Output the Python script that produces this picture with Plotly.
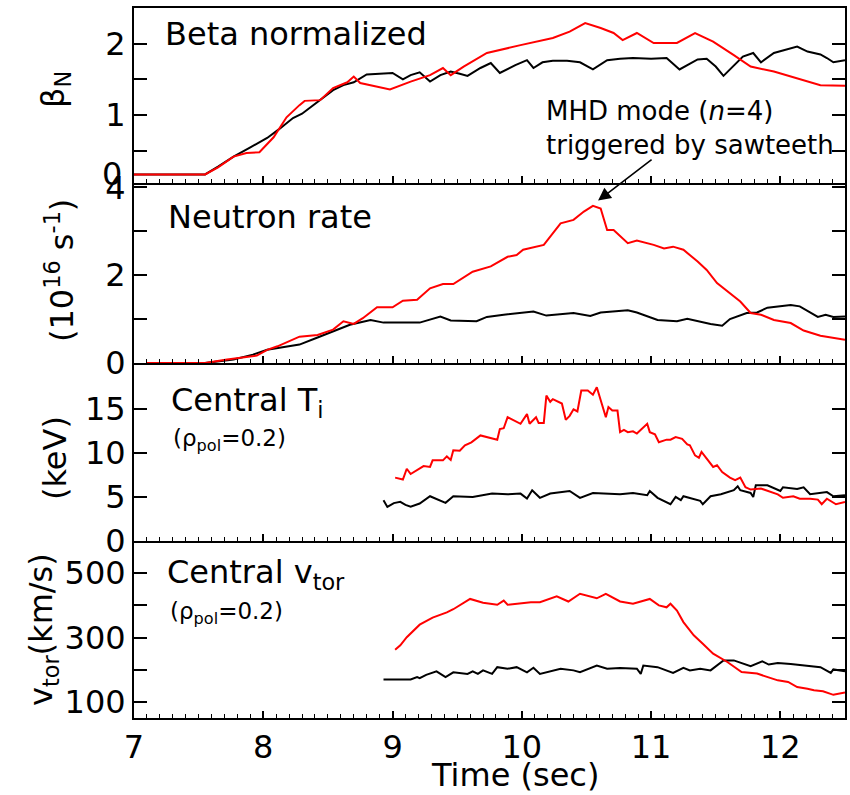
import plotly.graph_objects as go

# ---------------- data ----------------
t_beta_black = [7.0, 7.55, 7.65, 7.77, 7.9, 8.03, 8.12, 8.23, 8.30, 8.36, 8.45, 8.54, 8.62, 8.70, 8.80, 8.9, 9.0, 9.08, 9.14, 9.21, 9.29, 9.37, 9.45, 9.52, 9.58, 9.68, 9.76, 9.83, 9.95, 10.04, 10.09, 10.16, 10.24, 10.35, 10.45, 10.55, 10.66, 10.76, 10.86, 11.0, 11.12, 11.22, 11.30, 11.36, 11.43, 11.50, 11.56, 11.64, 11.71, 11.79, 11.85, 11.95, 12.05, 12.13, 12.21, 12.31, 12.36, 12.41, 12.5]
beta_black = [0.17, 0.17, 0.28, 0.42, 0.55, 0.68, 0.80, 0.96, 1.02, 1.10, 1.22, 1.35, 1.42, 1.46, 1.57, 1.58, 1.59, 1.50, 1.56, 1.60, 1.47, 1.56, 1.61, 1.58, 1.55, 1.66, 1.73, 1.59, 1.70, 1.77, 1.66, 1.74, 1.76, 1.76, 1.74, 1.64, 1.77, 1.79, 1.80, 1.79, 1.80, 1.64, 1.72, 1.78, 1.79, 1.68, 1.55, 1.70, 1.82, 1.87, 1.74, 1.87, 1.92, 1.96, 1.89, 1.85, 1.80, 1.74, 1.77]

t_beta_red = [7.0, 7.55, 7.65, 7.77, 7.87, 7.97, 8.08, 8.18, 8.28, 8.32, 8.44, 8.54, 8.65, 8.70, 8.75, 8.85, 8.98, 9.14, 9.29, 9.39, 9.45, 9.55, 9.73, 9.99, 10.24, 10.37, 10.49, 10.61, 10.71, 10.78, 10.89, 11.02, 11.20, 11.34, 11.48, 11.64, 11.77, 11.95, 12.18, 12.31, 12.5]
beta_red = [0.17, 0.17, 0.27, 0.42, 0.47, 0.48, 0.69, 0.97, 1.14, 1.20, 1.21, 1.38, 1.46, 1.54, 1.45, 1.41, 1.36, 1.47, 1.56, 1.66, 1.56, 1.68, 1.87, 1.98, 2.08, 2.17, 2.29, 2.22, 2.15, 2.05, 2.15, 2.01, 2.01, 2.15, 2.03, 1.84, 1.68, 1.61, 1.49, 1.42, 1.41]

t_neut_black = [7.1, 7.55, 7.77, 7.92, 8.03, 8.15, 8.28, 8.42, 8.54, 8.67, 8.83, 8.93, 9.21, 9.37, 9.45, 9.65, 9.73, 9.86, 10.09, 10.19, 10.40, 10.53, 10.61, 10.82, 10.89, 11.05, 11.20, 11.28, 11.46, 11.55, 11.61, 11.74, 11.82, 11.90, 12.08, 12.15, 12.29, 12.35, 12.41, 12.5]
neut_black = [0.0, 0.0, 0.08, 0.19, 0.30, 0.35, 0.42, 0.58, 0.72, 0.87, 0.98, 0.92, 0.92, 1.06, 0.97, 0.95, 1.05, 1.10, 1.17, 1.08, 1.14, 1.07, 1.15, 1.20, 1.15, 0.98, 0.95, 1.01, 0.89, 0.85, 1.00, 1.14, 1.15, 1.26, 1.32, 1.29, 1.05, 1.10, 1.05, 1.06]

t_neut_red = [7.1, 7.55, 7.72, 7.90, 7.95, 8.03, 8.11, 8.28, 8.42, 8.54, 8.62, 8.70, 8.77, 8.88, 9.0, 9.08, 9.19, 9.29, 9.39, 9.47, 9.62, 9.76, 9.89, 9.96, 10.01, 10.17, 10.30, 10.40, 10.48, 10.55, 10.61, 10.66, 10.71, 10.82, 10.89, 11.02, 11.10, 11.17, 11.25, 11.36, 11.43, 11.51, 11.61, 11.69, 11.77, 11.85, 11.95, 12.08, 12.18, 12.31, 12.5]
neut_red = [0.0, 0.0, 0.08, 0.15, 0.17, 0.30, 0.38, 0.60, 0.64, 0.76, 0.95, 0.89, 1.02, 1.27, 1.27, 1.42, 1.44, 1.70, 1.80, 1.80, 2.08, 2.20, 2.42, 2.46, 2.58, 2.69, 3.18, 3.26, 3.45, 3.58, 3.52, 3.03, 3.03, 2.73, 2.79, 2.69, 2.61, 2.65, 2.58, 2.31, 2.12, 1.82, 1.59, 1.40, 1.14, 1.10, 0.98, 0.91, 0.74, 0.62, 0.53]

t_ti_black = [8.93, 8.96, 9.01, 9.06, 9.10, 9.14, 9.21, 9.29, 9.41, 9.47, 9.62, 9.77, 9.89, 9.99, 10.04, 10.08, 10.14, 10.22, 10.37, 10.45, 10.55, 10.76, 10.86, 10.97, 10.99, 11.05, 11.15, 11.19, 11.23, 11.25, 11.38, 11.40, 11.46, 11.54, 11.64, 11.67, 11.69, 11.77, 11.79, 11.81, 11.90, 12.0, 12.02, 12.13, 12.18, 12.23, 12.36, 12.41, 12.5]
ti_black = [4.63, 3.87, 4.3, 4.44, 4.1, 3.9, 4.25, 5.08, 4.33, 5.08, 5.0, 5.38, 5.3, 5.38, 4.82, 5.76, 4.9, 5.38, 5.68, 4.9, 5.45, 5.3, 5.45, 5.2, 5.68, 4.9, 4.17, 5.0, 4.63, 5.08, 4.55, 4.17, 5.08, 5.3, 5.76, 6.21, 5.76, 5.45, 5.0, 6.32, 6.32, 5.68, 6.1, 5.9, 6.1, 5.3, 5.55, 5.08, 5.2]

t_ti_red = [9.02, 9.08, 9.11, 9.14, 9.24, 9.29, 9.31, 9.39, 9.42, 9.45, 9.47, 9.52, 9.56, 9.61, 9.68, 9.81, 9.83, 9.86, 9.89, 9.99, 10.04, 10.06, 10.11, 10.13, 10.17, 10.19, 10.22, 10.24, 10.31, 10.34, 10.37, 10.40, 10.43, 10.46, 10.51, 10.55, 10.58, 10.61, 10.65, 10.67, 10.70, 10.74, 10.76, 10.79, 10.82, 10.86, 10.89, 10.97, 10.99, 11.03, 11.06, 11.12, 11.15, 11.19, 11.24, 11.28, 11.30, 11.34, 11.37, 11.39, 11.44, 11.48, 11.51, 11.55, 11.61, 11.65, 11.69, 11.73, 11.77, 11.85, 11.98, 12.02, 12.10, 12.15, 12.23, 12.29, 12.32, 12.36, 12.43, 12.5]
ti_red = [7.19, 6.97, 8.2, 7.6, 8.5, 8.4, 9.15, 9.15, 9.6, 9.2, 10.3, 10.25, 10.85, 11.2, 11.98, 11.5, 12.7, 12.8, 14.05, 13.3, 14.4, 13.3, 14.05, 13.4, 13.4, 16.5, 15.8, 16.1, 15.6, 13.75, 14.2, 14.95, 14.7, 17.07, 17.07, 16.6, 17.45, 16.1, 14.05, 15.2, 14.8, 14.8, 12.35, 12.6, 12.35, 12.45, 12.2, 13.3, 12.35, 12.1, 11.2, 11.5, 11.5, 11.8, 11.6, 10.96, 10.85, 9.72, 9.45, 10.1, 9.15, 8.4, 8.6, 7.83, 7.2, 6.9, 7.2, 6.1, 5.84, 5.95, 5.3, 4.9, 5.08, 4.8, 4.8, 4.7, 4.17, 4.8, 4.17, 4.44]

t_vt_black = [8.93, 9.14, 9.19, 9.21, 9.26, 9.34, 9.41, 9.47, 9.58, 9.62, 9.66, 9.70, 9.77, 9.81, 9.89, 9.96, 10.04, 10.09, 10.14, 10.24, 10.30, 10.40, 10.45, 10.58, 10.66, 10.76, 10.89, 10.92, 10.94, 11.05, 11.17, 11.25, 11.30, 11.38, 11.46, 11.56, 11.64, 11.77, 11.86, 11.91, 11.98, 12.08, 12.18, 12.31, 12.39, 12.41, 12.5]
vt_black = [170, 170, 177, 174, 184, 195, 177, 192, 187, 195, 187, 198, 187, 208, 203, 208, 192, 206, 187, 198, 203, 198, 192, 213, 203, 205, 203, 187, 213, 208, 190, 206, 198, 203, 198, 229, 229, 211, 226, 216, 221, 218, 213, 208, 190, 201, 195]

t_vt_red = [9.02, 9.06, 9.11, 9.21, 9.31, 9.42, 9.47, 9.60, 9.70, 9.81, 9.86, 9.89, 10.07, 10.14, 10.27, 10.36, 10.45, 10.58, 10.65, 10.76, 10.86, 10.99, 11.06, 11.12, 11.15, 11.20, 11.25, 11.33, 11.40, 11.48, 11.59, 11.70, 11.82, 11.98, 12.06, 12.13, 12.21, 12.26, 12.33, 12.41, 12.5]
vt_red = [262, 276, 301, 340, 362, 378, 388, 420, 408, 402, 415, 402, 410, 410, 428, 412, 436, 422, 436, 412, 405, 420, 400, 394, 405, 384, 348, 307, 281, 250, 224, 193, 188, 167, 162, 146, 141, 136, 133, 122, 129]

x_ticks = [7, 8, 9, 10, 11, 12]
beta_ticks = [0.5, 1, 1.5, 2]
beta_ticktext = ["", "1", "", "2"]
neut_ticks = [0, 1, 2, 3, 4]
neut_ticktext = ["0", "", "2", "", "4"]
ti_ticks = [0, 5, 10, 15]
ti_ticktext = ["0", "5", "10", "15"]
vt_ticks = [100, 200, 300, 400, 500]
vt_ticktext = ["100", "", "300", "", "500"]

# ---------------- layout helpers ----------------
W, H = 850, 795
L, R, T, B = 134, 5, 8, 77
PW, PH = W - L - R, H - T - B
FONT = "DejaVu Sans"


def px(x):
    return (x - L) / PW


def py(y):
    return (H - B - y) / PH


doms = [[py(183), 1.0], [py(363), py(183)], [py(541), py(363)], [0.0, py(541)]]

fig = go.Figure()
series = [
    (t_beta_black, beta_black, "black", 1), (t_beta_red, beta_red, "red", 1),
    (t_neut_black, neut_black, "black", 2), (t_neut_red, neut_red, "red", 2),
    (t_ti_black, ti_black, "black", 3), (t_ti_red, ti_red, "red", 3),
    (t_vt_black, vt_black, "black", 4), (t_vt_red, vt_red, "red", 4),
]
for tx, vy, col, k in series:
    fig.add_trace(go.Scatter(x=tx, y=vy, mode="lines",
                             line=dict(color=col, width=2),
                             xaxis="x" if k == 1 else f"x{k}",
                             yaxis="y" if k == 1 else f"y{k}",
                             showlegend=False, hoverinfo="skip"))

yspecs = [
    ([0.05, 2.5], beta_ticks, beta_ticktext),
    ([0, 4.1], neut_ticks, neut_ticktext),
    ([0, 20.2], ti_ticks, ti_ticktext),
    ([50, 600], vt_ticks, vt_ticktext),
]
layout = dict(
    width=W, height=H,
    margin=dict(l=L, r=R, t=T, b=B, autoexpand=False),
    paper_bgcolor="white", plot_bgcolor="white",
    font=dict(family=FONT, color="black", size=32),
    showlegend=False,
)
for i in range(4):
    k = i + 1
    xs = "xaxis" if k == 1 else f"xaxis{k}"
    ys = "yaxis" if k == 1 else f"yaxis{k}"
    layout[xs] = dict(
        domain=[0, 1], range=[7, 12.5], anchor="y" if k == 1 else f"y{k}",
        tickvals=x_ticks, ticks="inside", ticklen=7, tickwidth=1.5, tickcolor="black",
        minor=dict(dtick=0.1, tick0=7, ticks="inside", ticklen=4, tickwidth=1.2, tickcolor="black", showgrid=False),
        showline=True, linecolor="black", linewidth=2, mirror=(k == 1),
        showgrid=False, zeroline=False, showticklabels=(k == 4), automargin=False,
        tickfont=dict(family=FONT, size=32, color="black"),
    )
    rng, tv, tt = yspecs[i]
    layout[ys] = dict(
        domain=doms[i], range=rng, anchor="x" if k == 1 else f"x{k}",
        tickvals=tv, ticktext=tt, ticks="inside", ticklen=13, tickwidth=1.5, tickcolor="black",
        showline=True, linecolor="black", linewidth=2, mirror="ticks",
        showgrid=False, zeroline=False, automargin=False,
        tickfont=dict(family=FONT, size=32, color="black"),
    )
fig.update_layout(**layout)

ann = []


def text(s, x, y, size, xanchor="left", angle=0):
    ann.append(dict(text=s, x=px(x), y=py(y), xref="paper", yref="paper",
                    xanchor=xanchor, yanchor="middle", showarrow=False,
                    textangle=angle, font=dict(family=FONT, size=size, color="black")))


# panel titles
text("Beta normalized", 163, 34, 32)
text("Neutron rate", 166, 217, 32)
text("Central T<sub>i</sub>", 169, 402, 32)
text("(ρ<sub>pol</sub>=0.2)", 171, 440, 23)
text("Central v<sub>tor</sub>", 165, 574, 32)
text("(ρ<sub>pol</sub>=0.2)", 168, 613, 23)
# y titles
text("β<sub>N</sub>", 55, 90, 32, xanchor="center", angle=-90)
text("(10<sup>16</sup> s<sup>-1</sup>)", 60, 271, 32, xanchor="center", angle=-90)
text("(keV)", 55, 458, 32, xanchor="center", angle=-90)
text("v<sub>tor</sub>(km/s)", 43, 630, 32, xanchor="center", angle=-90)
# stray 0 label of top panel
text("0", 124, 174, 32, xanchor="right")
# x title
text("Time (sec)", 515, 775, 32, xanchor="center")
# MHD annotation
text("MHD mode (<i>n</i>=4)", 544, 111, 26)
text("triggered by sawteeth", 544, 145, 26)
ann.append(dict(x=10.59, y=3.70, xref="x2", yref="y2", text="", showarrow=True,
                ax=55, ay=-42, axref="pixel", ayref="pixel",
                arrowhead=2, arrowsize=1.6, arrowwidth=1.6, arrowcolor="black"))
fig.update_layout(annotations=ann)

fig.write_html("out.html", config={"displayModeBar": False},
               post_script="document.body.style.margin='0';document.body.style.overflow='hidden';")
